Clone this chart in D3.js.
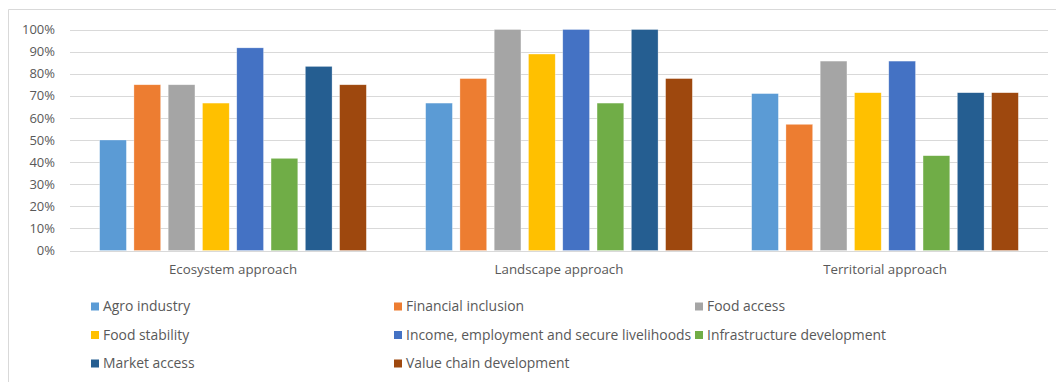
<!DOCTYPE html>
<html>
<head>
<meta charset="utf-8">
<script src="https://cdn.jsdelivr.net/npm/d3@7"></script>
<style>
  html, body { margin: 0; padding: 0; background: #fff; }
  svg { display: block; }
  text { font-family: "Open Sans", sans-serif; fill: #595959; }
</style>
</head>
<body>
<svg id="chart" width="1056" height="382"></svg>
<script>
// Share of projects addressing each theme, by approach (%)
const approaches = ["Ecosystem approach", "Landscape approach", "Territorial approach"];
const themes = [
  "Agro industry",
  "Financial inclusion",
  "Food access",
  "Food stability",
  "Income, employment and secure livelihoods",
  "Infrastructure development",
  "Market access",
  "Value chain development"
];
const ecosystemValues   = [50.0, 75.0, 75.0, 66.7, 91.7, 41.7, 83.3, 75.0];
const landscapeValues   = [66.7, 77.8, 100, 88.9, 100, 66.7, 100, 77.8];
const territorialValues = [71.0, 57.1, 85.7, 71.4, 85.7, 42.9, 71.4, 71.4];
const yTicks = [0, 10, 20, 30, 40, 50, 60, 70, 80, 90, 100];
const themeColors = ["#5B9BD5", "#ED7D31", "#A5A5A5", "#FFC000", "#4472C4", "#70AD47", "#255E91", "#9E480E"];

const valuesByApproach = [ecosystemValues, landscapeValues, territorialValues];

const svg = d3.select("#chart");
const W = 1056, H = 382;

// Outer chart frame (top and left edges visible)
svg.append("line").attr("x1", 8.5).attr("x2", W).attr("y1", 9.5).attr("y2", 9.5)
  .attr("stroke", "#d9d9d9").attr("stroke-width", 1);
svg.append("line").attr("x1", 8.5).attr("x2", 8.5).attr("y1", 9.5).attr("y2", H)
  .attr("stroke", "#d9d9d9").attr("stroke-width", 1);

const plot = { left: 70, right: 1048, top: 29.5, bottom: 250.5 };

const x0 = d3.scaleBand().domain(approaches).range([plot.left, plot.right]).padding(0);
const x1 = d3.scaleBand().domain(themes).range([0, x0.bandwidth()])
  .paddingInner(0.22).paddingOuter(0.865);
const y = d3.scaleLinear().domain([0, 100]).range([plot.bottom, plot.top]);
const color = d3.scaleOrdinal().domain(themes).range(themeColors);

// Gridlines
svg.append("g")
  .selectAll("line").data(yTicks).join("line")
  .attr("x1", plot.left).attr("x2", plot.right)
  .attr("y1", d => Math.round(y(d)) + 0.5).attr("y2", d => Math.round(y(d)) + 0.5)
  .attr("stroke", "#d9d9d9").attr("stroke-width", 1);

// Y axis labels
const yAxis = d3.axisLeft(y).tickValues(yTicks).tickFormat(d => d + "%").tickSize(0).tickPadding(0);
const yg = svg.append("g").attr("transform", `translate(${plot.left - 15},0)`).call(yAxis);
yg.select(".domain").remove();
yg.selectAll("text").attr("font-size", 13).attr("font-family", "Open Sans, sans-serif").attr("fill", "#595959");

// Bars
const groups = svg.append("g").selectAll("g").data(approaches).join("g")
  .attr("transform", d => `translate(${x0(d)},0)`);
groups.selectAll("rect")
  .data((a, i) => themes.map((t, j) => ({ theme: t, value: valuesByApproach[i][j] })))
  .join("rect")
  .attr("x", d => x1(d.theme))
  .attr("width", x1.bandwidth())
  .attr("y", d => y(d.value))
  .attr("height", d => y(0) - y(d.value))
  .attr("fill", d => color(d.theme))
  .attr("stroke", "#ffffff").attr("stroke-opacity", 0.5).attr("stroke-width", 0.6);

// Category labels
const xAxis = d3.axisBottom(x0).tickSize(0).tickPadding(0);
const xg = svg.append("g").attr("transform", `translate(0,${plot.bottom + 14})`).call(xAxis);
xg.select(".domain").remove();
xg.selectAll("text").attr("font-size", 13.3).attr("font-family", "Open Sans, sans-serif").attr("fill", "#595959");

// Legend: three columns, three rows
const legendCols = [91, 394, 695];
const legendRows = [306.5, 335, 363.5];
const legend = svg.append("g").selectAll("g").data(themes).join("g")
  .attr("transform", (d, i) => `translate(${legendCols[i % 3]},${legendRows[Math.floor(i / 3)]})`);
legend.append("rect").attr("x", 0).attr("y", -4).attr("width", 8).attr("height", 8)
  .attr("fill", d => color(d));
legend.append("text").attr("x", 12).attr("y", 0).attr("dy", "0.35em")
  .attr("font-size", 13.9).text(d => d);
</script>
</body>
</html>
